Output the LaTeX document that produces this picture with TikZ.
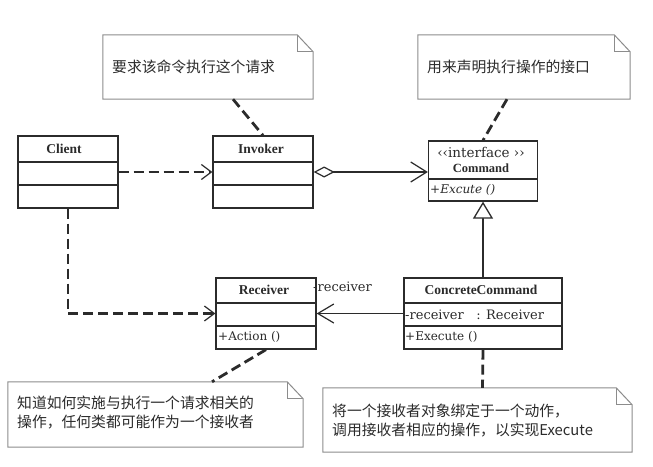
\documentclass[tikz,border=0pt]{standalone}
\usepackage{fontspec}
\setmainfont{Liberation Serif}
\newfontfamily\cjk{Noto Sans CJK SC}
\newfontfamily\attr{DejaVu Serif}
\usetikzlibrary{arrows.meta,calc}
\definecolor{ink}{HTML}{2B2B2B}
\definecolor{notegray}{HTML}{8C8C8C}
\begin{document}
\begin{tikzpicture}[x=1pt,y=-1pt,
  cls/.style={draw=ink,line width=1.3pt,fill=white,inner sep=0pt,rectangle},
  divider/.style={draw=ink,line width=1.3pt},
  notebox/.style={inner sep=0pt,rectangle},
  notepath/.style={draw=notegray,line width=1pt,fill=white},
  dep/.style={draw=ink,line width=2.8pt,dash pattern=on 10pt off 5pt},
  clsname/.style={font=\bfseries\fontsize{13.5}{16}\selectfont,text=ink,inner sep=0pt},
  member/.style={font=\attr\fontsize{12}{14}\selectfont,text=ink,anchor=west,inner sep=0pt},
  notetext/.style={font=\cjk\fontsize{14.8}{19}\selectfont,text=ink,align=left,anchor=west,inner sep=0pt},
  depto/.style={-{Straight Barb[length=10pt,width=15pt,line width=1.2pt]}},
  assocto/.style={-{Straight Barb[length=16pt,width=19pt,line width=1.2pt]}},
]
\fill[white] (0,0) rectangle (653,466);
\useasboundingbox (0,0) rectangle (653,466);

% ---------- notes ----------
\node[notebox,minimum width=210pt,minimum height=64pt] (n1) at (208,67) {};
\node[notebox,minimum width=212pt,minimum height=64pt] (n2) at (524,67) {};
\node[notebox,minimum width=295pt,minimum height=65pt] (n3) at (155.5,414.5) {};
\node[notebox,minimum width=309pt,minimum height=64pt] (n4) at (477.5,420) {};
\foreach \n in {n1,n2,n3,n4}{
  \draw[notepath] (\n.north west) -- ([xshift=-16pt]\n.north east) -- ([yshift=-17pt]\n.north east) -- (\n.south east) -- (\n.south west) -- cycle;
  \draw[draw=notegray,line width=1pt] ([xshift=-16pt]\n.north east) |- ([yshift=-17pt]\n.north east);
}
\node[notetext] (n1t) at (112,67) {要求该命令执行这个请求};
\node[notetext] (n2t) at (427,67) {用来声明执行操作的接口};
\node[notetext] (n3t) at (17,412.5) {知道如何实施与执行一个请求相关的\\操作，任何类都可能作为一个接收者};
\node[notetext] (n4t) at (332,421) {将一个接收者对象绑定于一个动作，\\调用接收者相应的操作，以实现Execute};

% ---------- classes ----------
\node[cls,minimum width=100pt,minimum height=72pt] (client) at (68,172) {};
\draw[divider] (client.west |- 0,162) -- (client.east |- 0,162);
\draw[divider] (client.west |- 0,185) -- (client.east |- 0,185);
\node[clsname] (clientname) at (64,149) {Client};

\node[cls,minimum width=100pt,minimum height=72pt] (invoker) at (263,172) {};
\draw[divider] (invoker.west |- 0,162) -- (invoker.east |- 0,162);
\draw[divider] (invoker.west |- 0,185) -- (invoker.east |- 0,185);
\node[clsname] (invokername) at (261,149) {Invoker};

\node[cls,minimum width=109pt,minimum height=60pt] (command) at (483,171) {};
\draw[divider] (command.west |- 0,179) -- (command.east |- 0,179);
\node[font=\attr\fontsize{13.5}{15}\selectfont,text=ink,inner sep=0pt] (cmdstereo) at (481,152) {‹‹interface ››};
\node[clsname,font=\bfseries\fontsize{12.5}{15}\selectfont] (cmdname) at (481,168) {Command};
\node[member,font=\attr\itshape\fontsize{12}{14}\selectfont] (cmdop) at (430,190) {+Excute ()};

\node[cls,minimum width=100pt,minimum height=71pt] (receiver) at (266,313.5) {};
\draw[divider] (receiver.west |- 0,303) -- (receiver.east |- 0,303);
\draw[divider] (receiver.west |- 0,326) -- (receiver.east |- 0,326);
\node[clsname] (receivername) at (264,290) {Receiver};
\node[member] (recop) at (218,337) {+Action ()};

\node[cls,minimum width=158pt,minimum height=71pt] (cc) at (483,313.5) {};
\draw[divider] (cc.west |- 0,303) -- (cc.east |- 0,303);
\draw[divider] (cc.west |- 0,326) -- (cc.east |- 0,326);
\node[clsname] (ccname) at (481,290) {ConcreteCommand};
\node[member,font=\attr\fontsize{13}{15}\selectfont] (ccattr) at (405,314.5) {-receiver\ \ \ : Receiver};
\node[member] (ccop) at (405,337) {+Execute ()};

% ---------- connectors ----------
\draw[dep,depto] (client.east) -- (invoker.west);
\draw[dep,depto] (client.south) |- (receiver.west);
\draw[draw=ink,line width=1.2pt,{Diamond[fill=white,length=21pt,width=11pt,line width=1.2pt]}-{Straight Barb[length=16pt,width=20pt,line width=1.2pt]}] (invoker.east) -- (invoker.east -| command.west);
\draw[draw=ink,line width=1.3pt,-{Triangle[fill=white,length=17pt,width=20pt,line width=1.3pt]}] (cc.north) -- (command.south);
\draw[draw=ink,line width=1.2pt,assocto] (cc.west) -- (receiver.east);
\node[member,font=\attr\fontsize{13}{15}\selectfont] (role) at (313,287) {-receiver};

\draw[dep] ([xshift=25pt]n1.south) -- (invoker.north);
\draw[dep] ([xshift=-17pt]n2.south) -- (command.north);
\draw[dep] (receiver.south) -- ([xshift=56.5pt]n3.north);
\draw[dep] (cc.south) -- ([xshift=5pt]n4.north);
\end{tikzpicture}
\end{document}
